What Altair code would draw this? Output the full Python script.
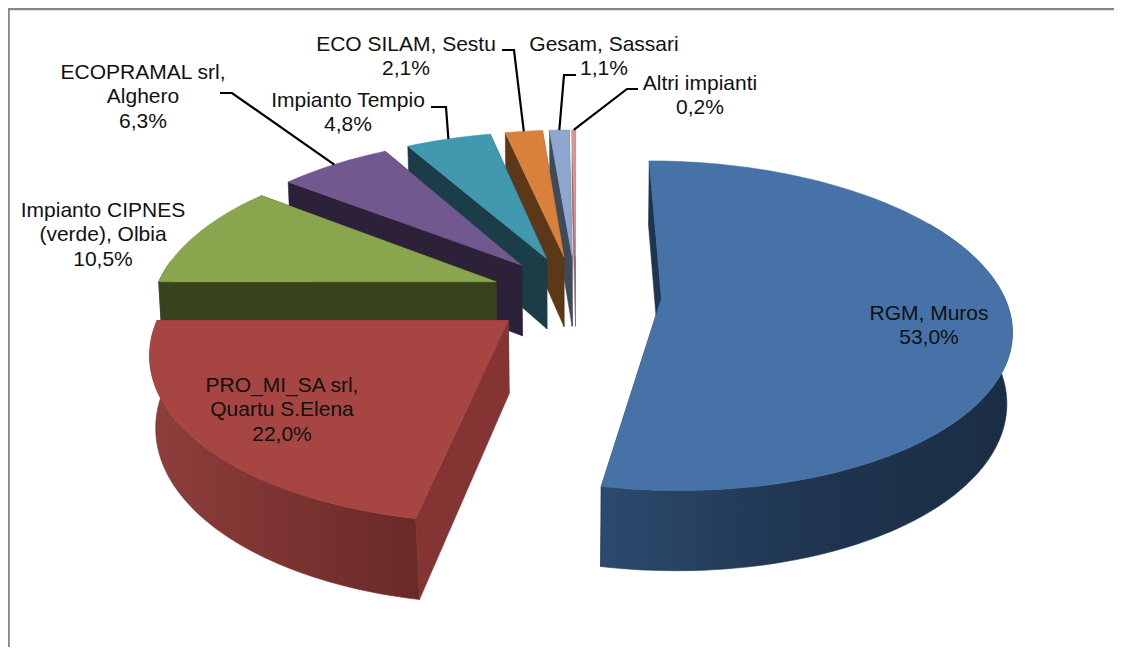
import math
import altair as alt
import pandas as pd

# ---- chart values ----
names = ["RGM, Muros", "PRO_MI_SA srl,\nQuartu S.Elena", "Impianto CIPNES\n(verde), Olbia",
         "ECOPRAMAL srl,\nAlghero", "Impianto Tempio", "ECO SILAM, Sestu", "Gesam, Sassari", "Altri impianti"]
shares = [53.0, 22.0, 10.5, 6.3, 4.8, 2.1, 1.1, 0.2]
top_colors = ["#4672A8", "#A64542", "#89A54E", "#71588F", "#4198AF", "#D9813C", "#8FA6CF", "#D99694"]
radial_colors = ["#1D3550", "#843432", "#38431E", "#2C2138", "#1A3D48", "#5C3718", "#3E4A5C", "#9A6A68"]
wall_stops = [["#2C4A6E", "#1F3550", "#1A2D44"], ["#8E3F3C", "#7C3331", "#682A28"],
              ["#38431E"] * 3, ["#2C2138"] * 3, ["#1A3D48"] * 3, ["#5C3718"] * 3, ["#3E4A5C"] * 3, ["#9A6A68"] * 3]
draw_order = [7, 6, 5, 4, 3, 2, 0, 1]

# ---- annotation placement (first-line centre of each label; elbow of the leader) ----
label_pos = {0: (929, 314), 1: (282, 386), 2: (103, 211), 3: (143, 73), 4: (348, 101), 5: (406, 45), 6: (604, 45), 7: (700, 84)}
leader_start = {3: [(220, 93), (232, 93)], 4: [(431, 107), (446, 107)], 5: [(502, 50), (514, 50)],
                6: [(576, 75), (564, 75)], 7: [(638, 89), (627, 89)]}

# ---- projection of the exploded 3-D pie ----
CX, CY, A, B, P, EXPL = 576, 294.5, 342, 159, 0.166, 0.25


def world(phi, theta, r):
    X = EXPL * math.sin(phi) + r * math.sin(theta)
    Y = -EXPL * math.cos(phi) - r * math.cos(theta)
    return X, Y


def top(phi, theta, r=1.0):
    X, Y = world(phi, theta, r)
    s = 1 / (1 - P * Y)
    return CX + A * X * s, CY + B * Y * s


def bottom(phi, theta, r=1.0):
    X, Y = world(phi, theta, r)
    s = 1 / (1 - P * Y)
    squeeze = 0.99 - 0.012 * max(Y, 0)
    return CX + squeeze * A * X * s, CY + B * Y * s + 72 + 8 * Y


def arc(fn, phi, t0, t1):
    n = max(2, int(abs(t1 - t0) / math.radians(1.5)) + 1)
    return [fn(phi, t0 + (t1 - t0) * k / n) for k in range(n + 1)]


xs = alt.Scale(domain=[8, 1114])
ys = alt.Scale(domain=[647, 8])


def poly(points, fill, stroke):
    pts = list(points) + [points[0]]
    df = pd.DataFrame({"x": [p[0] for p in pts], "y": [p[1] for p in pts], "i": range(len(pts))})
    return alt.Chart(df).mark_line(fill=fill, stroke=stroke, strokeWidth=0.6, interpolate="linear").encode(
        x=alt.X("x:Q", scale=xs, axis=None), y=alt.Y("y:Q", scale=ys, axis=None), order="i:Q")


layers = []

# frame
frame = pd.DataFrame({"x": [8.6, 8.6, 1114], "y": [647, 9, 9], "i": [0, 1, 2]})
layers.append(alt.Chart(frame).mark_line(color="#868686", strokeWidth=2.4).encode(
    x=alt.X("x:Q", scale=xs, axis=None), y=alt.Y("y:Q", scale=ys, axis=None), order="i:Q"))

edges = [0.0]
for v in shares:
    edges.append(edges[-1] + v)
angles = [e / sum(shares) * 2 * math.pi for e in edges]
mids = [(angles[i] + angles[i + 1]) / 2 for i in range(len(shares))]

for i in draw_order:
    t0, t1, phi = angles[i], angles[i + 1], mids[i]
    # radial walls
    for t in (t0, t1):
        layers.append(poly([top(phi, t, 0), top(phi, t), bottom(phi, t), bottom(phi, t, 0)],
                           radial_colors[i], radial_colors[i]))
    # outer wall, only the part that can show below the rim
    a0, a1 = max(t0, math.radians(60)), min(t1, math.radians(278))
    if a1 > a0:
        stops = wall_stops[i]
        grad = {"gradient": "linear", "x1": 0, "y1": 0, "x2": 1, "y2": 0,
                "stops": [{"offset": 0, "color": stops[0]}, {"offset": 0.5, "color": stops[1]},
                          {"offset": 1, "color": stops[2]}]}
        layers.append(poly(arc(top, phi, a0, a1) + arc(bottom, phi, a1, a0), grad, stops[1]))
    # top face
    layers.append(poly([top(phi, t0, 0)] + arc(top, phi, t0, t1), top_colors[i], top_colors[i]))

# leaders
for i, start in leader_start.items():
    tip = top(mids[i], mids[i])
    pts = start + [tip]
    df = pd.DataFrame({"x": [p[0] for p in pts], "y": [p[1] for p in pts], "i": range(len(pts))})
    layers.append(alt.Chart(df).mark_line(color="#000000", strokeWidth=2.2).encode(
        x=alt.X("x:Q", scale=xs, axis=None), y=alt.Y("y:Q", scale=ys, axis=None), order="i:Q"))

# labels
lab = pd.DataFrame({
    "t": [f"{n}\n{str(v).replace('.', ',')}%" for n, v in zip(names, shares)],
    "x": [label_pos[i][0] for i in range(len(names))],
    "y": [label_pos[i][1] for i in range(len(names))],
})
layers.append(alt.Chart(lab).mark_text(font="Liberation Sans", fontSize=21, lineBreak="\n", lineHeight=24.3,
                                       align="center", baseline="middle", color="#111111").encode(
    x=alt.X("x:Q", scale=xs, axis=None), y=alt.Y("y:Q", scale=ys, axis=None), text="t:N"))

chart = alt.layer(*layers).properties(
    width=1106, height=639, padding=0, autosize=alt.AutoSizeParams(type="none"), background="#FFFFFF"
).configure_view(stroke=None)

chart.save("out.html", embed_options={"renderer": "svg", "actions": False})
